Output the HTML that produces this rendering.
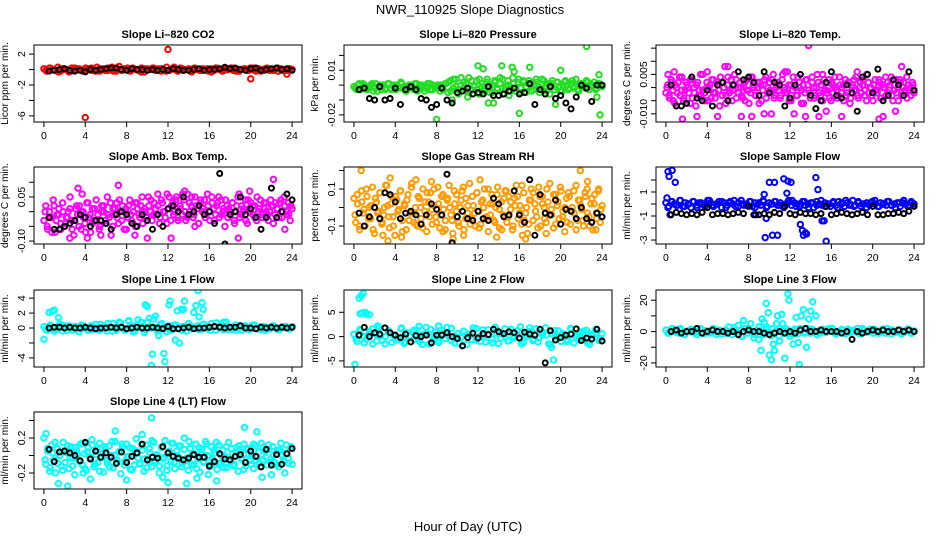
<!DOCTYPE html>
<html><head><meta charset="utf-8"><style>
html,body{margin:0;padding:0;background:#fff;}
svg{display:block;font-family:"Liberation Sans",sans-serif;}
</style></head><body>
<svg id="chart" width="936" height="540" viewBox="0 0 936 540">
<text x="470" y="14" text-anchor="middle" font-size="13">NWR_110925  Slope Diagnostics</text>
<text x="468" y="531" text-anchor="middle" font-size="13">Hour of Day (UTC)</text>
<g id="plots"></g>
</svg>
<script>
// x axis tick values and labels
const xTicks = [0,4,8,12,16,20,24];
const xTickLabels = ["0","4","8","12","16","20","24"];

// ---- CO2 (ppm/min)
const co2Color = [0.1,-0.2,0.2,0,-0.1,0.3,-0.2,0.1,0,-0.3,0.2,-0.1,0.1,0,-0.2,0.2,0.1,-0.1,0,0.3,-0.2,0.1,-0.1,0.2,0,-0.2,0.1,0.4,-0.1,0,0.2,-0.2,0.1,0,-0.1,0.2,-0.3,0.1,0,0.2,-0.1,0.1,-0.2,0,0.3,-0.1,0.1,0,-0.2,0.2,-0.1,0,0.1,-0.3,0.2,0,-0.1,0.1,0,-0.2,0.1,-0.1,0.2,0,-0.2,0.1,0,0.2,-0.1,0.1,-0.2,0,0.1,-0.1,0.2,0,-0.2,0.1,0,-0.1,0.2,-0.1,0,0.1,-0.2,0.1,0,-0.1,0.1,0];
const co2Color2 = [-0.1,0.2,0,-0.3,0.1,0,-0.2,0.2,0.1,-0.1,0,0.2,-0.2,0.1,0,-0.1,0.3,-0.2,0,0.1,-0.1,0.2,0,-0.3,0.1,0,0.2,-0.1,0.1,-0.2,0,0.3,-0.1,0.1,0,-0.2,0.2,0,-0.1,0.1,-0.3,0.2,0,-0.1,0.1,0.2,-0.2,0,0.1,-0.1,0.2,0,-0.2,0.1,0,-0.1,0.2,-0.1,0,0.1];
const co2OutHours = [4,12,20,23.5];
const co2OutVals = [-6.2,2.6,-1.2,-0.6];
const co2Black = [-0.2,-0.1,0,0.1,-0.1,-0.2,-0.1,-0.3,0,-0.1,0,0.1,0.2,0.2,0,-0.1,0.1,0,0,-0.1,0,-0.1,0,-0.1,0.1,0,-0.1,-0.1,0,0.1,-0.1,0,0,0.1,0.3,0.1,0.2,0,-0.1,0.1,0.2,-0.1,0,0.1,0.2,0,0.1,-0.1];

// ---- Li-820 pressure (1e-3 kPa/min)
const pressColor = [-1,-3,1,-2,0,-3,-1,1,-2,-4,0,-1,-3,1,-2,0,-3,-1,2,-2,-4,0,-1,-3,1,-2,0,-4,-1,1,-3,-2,0,-4,-1,1,-5,3,-2,4,-6,0,2,-4,5,-3,-1,3,-6,1,-2,4,-5,0,2,-3,5,-6,-1,3,-4,1,-2,4,-5,2,-1,3,-4,0,2,-5,4,-2,1,-6,3,-1,2,-4,0,3,-3,1,-2,4,-4,1,-1,3,-3,0,2,-2,1,-1];
const pressColor2 = [-2,0,-3,1,-1,-2,0,-4,1,-1,-3,0,-2,1,-3,-1,0,-2,1,-3,-1,0,-2,1,-4,0,-1,-2,1,-3,0,-1,-2,0,-3,1,2,-4,4,-1,-3,5,-2,1,-5,3,0,-3,4,-1,-4,2,0,-5,3,-2,1,4,-3,0,-1,5,-4,2,-2,3,-5,1,0,-3,4,-1,-2,3,-4,0,1,-3,2,-1,-4,2,0,-2,3,-1,-3,1,0,-2,2,-1,0,-3,1,0];
const pressOutHours = [8,9.5,12,12.5,13,13.5,14.3,15.3,15.5,16,17,19.5,20,22.5,23.5,23.8,23.7,15,11];
const pressOutVals = [-23,-10,13,11,-12,-12,13,12,9,-19,12,-13,10,26,-8,-20,7,-7,-8];
const pressBlack = [-3,-2,-9,-10,-1,-10,-9,-2,-13,-3,-1,-3,-9,-10,-15,-13,-2,-10,-12,-5,-4,-2,-6,-5,-6,-1,-7,-7,-6,-4,-2,-6,-5,1,-13,-3,-6,-1,-9,-7,-12,-16,-8,0,-2,-11,0,0];

// ---- Li-820 temp (1e-3 deg C/min)
const tempLiColor = [-2,1,-4,3,-1,-6,0,2,-3,4,-5,-1,1,-2,3,-4,0,-7,2,-1,-3,5,-2,0,-5,1,3,-2,-4,2,-1,4,-3,0,-6,1,-2,3,-1,5,-4,0,2,-3,1,-5,3,-1,-2,4,0,-3,2,-6,1,-1,3,-4,0,2,-2,5,-3,1,-1,-4,3,0,-2,6,-5,1,-1,2,-3,4,0,-6,1,-2,3,-1,-4,2,0,-3,5,-2,1,-5,3,-1,0,-4,2,-2,4,-1,-3,1,0,-5,3,-2,2,-4,1,-1,4,-3,0,-2,3,-1,-5,2,0,-3,1,-1,-2,3,-4,1,0,-3,2,-1,4,-5,1,-2,0,3,-3,2,-1,-4,1,0,2,-2];
const tempLiColor2 = [0,-3,2,-5,1,-2,4,-1,-4,2,0,-6,3,-2,1,-3,5,-1,-5,2,0,-4,3,-2,1,-7,2,0,-3,4,-1,-5,1,3,-2,0,-4,2,-1,-6,4,1,-3,0,2,-5,1,4,-2,-1,3,-4,0,2,-3,5,-1,-2,1,-5,4,0,-3,2,-1,-6,3,1,-2,4,-4,0,2,-3,5,-1,-2,3,-5,1,0,-4,4,-2,1,-3,2,-6,0,3,-1,-4,2,1,-3,5,-2,0,-5,3,-1,2,-4,0,4,-2,1,-3,-1,3,-5,2,0,-2,4,-1,-3,1];
const tempLiOutHours = [0.2,0.8,1.6,3,4,5,6,7.3,8.3,10.2,12.4,13.5,13.8,14.8,15.5,17,18.5,20.6,21,22.2,22.8,5.7,9.5,11.5];
const tempLiOutVals = [5,6,-12,-11,6,-11,8,-11,-11,-10,-10,-11,16,-11,-9,-11,6,-12,-11,-9,8,8,-10,6];
const tempLiBlack = [1,-7,-7,-6,4,-4,-5,-1,-7,1,2,-5,1,6,3,4,2,-3,6,-2,2,1,-7,-4,1,5,-14,-3,-8,-5,2,6,-3,-4,1,-2,-9,4,5,-2,7,-5,-3,3,1,-3,6,-1];

// ---- Amb. box temp (1e-2 deg C/min)
const ambColor = [-3,2,-6,0,-2,4,-7,-1,1,-4,3,-5,-2,0,5,-3,-8,1,-1,2,-6,0,-4,3,-2,-7,1,-3,4,-1,-5,2,0,-3,5,-2,-8,1,-1,3,-4,0,2,-6,1,-2,4,-3,0,-5,3,-1,2,-4,1,-2,5,0,-3,3,-1,2,-4,4,0,-2,6,1,-3,3,0,5,-2,2,-1,4,-3,6,0,2,-2,5,1,-4,3,0,4,-1,2,-3,5,1,-1,3,-2,4,0,-5,2,1,-1,3,-3,0,5,-2,2,0,4,-4,1,3,-1,2,-3,0,4,-2,1,3,-1,0,2,-4,3,1,-2,4,0,2,-1,3,-3,1];
const ambColor2 = [0,-5,-2,-7,2,-3,-1,-6,0,-4,-2,1,-6,-3,2,-5,0,-2,-7,3,-1,-4,1,-3,-6,0,2,-4,-1,3,-5,1,-2,4,-3,0,-6,2,-1,-4,3,1,-2,5,0,-3,2,4,-1,1,6,-2,3,0,-4,5,2,-1,4,-3,1,6,0,-2,3,5,-1,2,-4,4,1,-2,6,0,3,-3,2,5,-1,1,4,-2,0,3,-4,2,6,-1,1,-3,4,0,2,-2,5,1,-1,3,0,-3,4,2,-1,1,3,-2,5,0,-1,2];
const ambOutHours = [3.3,3.7,7.2,8.8,10,12.3,13.6,18.8,19.9,22.2,2.5,4.2,5.5,14.6,23.3];
const ambOutVals = [8,6,9,-8,-9,-9,7,-9,7,11,-9,-9,-8,-5,-6];
const ambBlack = [-2,-6,-6,-5,-4,-3,-1,-2,-5,-3,-3,-4,-6,-1,0,-1,-4,-5,-1,-3,-6,-1,-5,1,2,0,5,-1,0,2,-1,0,-4,13,-11,-1,0,5,-1,1,-2,-6,-2,8,-2,0,6,4];

// ---- Gas stream RH (1e-2 %/min)
const rhColor = [5,-8,2,-12,9,-3,-10,6,0,-6,11,-14,3,-2,8,-9,-4,12,1,-11,6,-5,-15,4,-1,9,-7,2,-12,7,-3,13,-8,0,-10,5,-6,10,-2,-13,3,8,-9,1,-5,11,-11,6,-1,-7,4,12,-4,-14,2,7,-8,0,9,-12,5,-3,13,-6,1,-10,8,-2,-9,4,10,-5,-13,2,7,-7,0,11,-11,3,-4,9,-8,6,-1,-12,5,12,-6,1,-9,8,-3,-14,4,10,-7,2,-5,11,-10,6,0,-8,3,13,-4,-11,7,1,-6,9,-2,-13,5,8,-9,0,-3,12,-7,4,-1,-10,6,10,-5,2,-12,7,-3,9,-8,1];
const rhColor2 = [-4,7,-10,3,-1,10,-6,1,-12,5,-3,8,-8,0,12,-5,2,-10,6,-2,9,-13,1,4,-7,11,-3,-9,6,0,-11,3,8,-5,-1,10,-8,2,-4,7,-12,5,0,-7,9,-2,-10,4,11,-6,1,-9,6,-3,8,-11,3,0,-6,10,-4,2,-8,7,-1,-12,5,9,-5,3,-10,1,6,-3,12,-7,0,-9,4,8,-2,-11,6,2,-6,10,-4,-1,7,-9,3,11,-5,0,-8,6,-2,9,-12,4,1,-7,8,-3,-10,5,2,-6,10,-1];
const rhOutHours = [0.7,3.3,3.5,4.6,6,7.5,9.6,10.6,12.2,13.8,16.3,16.6,18.6,21.9,22.6,23.4,8.6,2.8];
const rhOutVals = [20,-18,16,-16,15,14,-17,-15,15,-16,-15,-17,-14,20,14,-12,-13,-15];
const rhBlack = [-3,-10,-5,0,-6,8,7,3,-6,-3,-2,-4,-9,-4,2,-1,-4,18,-19,-5,-2,-6,-7,-2,-6,-7,5,2,-5,-4,9,-4,-8,15,-15,7,-3,-4,4,-9,-1,-2,-6,0,-6,-8,-3,-5];

// ---- Sample flow (mL/min per min)
const sampleColor = [0.1,-0.2,0.2,0,-0.1,0.3,-0.2,0.1,0,-0.3,0.2,-0.1,0.1,0,-0.2,0.3,0.1,-0.1,0,0.2,-0.3,0.1,-0.1,0.2,0,-0.2,0.1,0.3,-0.1,0,0.2,-0.2,0.1,0,-0.1,0.2,-0.3,0.1,0,0.2,-0.1,0.1,-0.2,0,0.3,-0.1,0.1,0,-0.2,0.2,-0.1,0,0.1,-0.3,0.2,0,-0.1,0.1,0,-0.2,0.1,-0.1,0.2,0,-0.2,0.1,0,0.3,-0.1,0.1,-0.2,0,0.1,-0.1,0.2,0,-0.2,0.1,0,-0.1,0.2,-0.1,0,0.1,-0.2,0.1,0,-0.1,0.2,0];
const sampleColor2 = [-0.3,0.2,-0.1,0.3,-0.2,0,0.2,-0.3,0.1,-0.1,0.3,-0.2,0,0.2,-0.3,0.1,0.3,-0.2,0,-0.1,0.2,-0.3,0.1,0.3,-0.2,0,0.2,-0.1,-0.3,0.1,0.3,-0.2,0,0.2,-0.3,0.1,-0.1,0.3,-0.2,0,0.2,-0.3,0.1,0.3,-0.1,-0.2,0.2,0,-0.3,0.1,0.3,-0.2,0,0.2,-0.1,-0.3,0.1,0.3,-0.2,0.1];
const sampleOutHours = [0.2,0.3,0.6,0.9,0.1,0.4,9.6,10,10.5,10.8,11.4,11.8,12.1,9.7,10.3,13.0,13.2,13.5,13.6,14.5,14.7,15.1,15.3,15.5,11.7,8.7,13.3,9.5];
const sampleOutVals = [2.7,2.3,2.8,1.8,0.5,-0.9,-2.8,1.8,1.8,-2.6,2.1,1.9,1.8,-1.2,-2.6,-1.7,-2.2,-2.4,-2.5,2.2,1.2,-1.4,-1.4,-3.1,0.9,-0.9,-2.6,0.8];
const sampleBlack = [-0.9,-0.7,-0.8,-0.9,-0.8,-0.9,-0.7,-0.3,-0.9,-0.8,-0.8,-0.9,-0.8,-0.7,-0.8,-0.2,-0.9,-0.9,-0.8,-0.9,-0.7,-0.8,-0.2,-0.8,-0.9,-0.7,-0.8,-0.8,-0.9,-0.8,-0.2,-0.9,-0.8,-0.7,-0.8,-0.9,-0.8,-0.7,-0.9,-0.2,-0.9,-0.9,-0.8,-0.8,-0.7,-0.8,-0.6,-0.2];

// ---- Line 1 flow
const line1Color = [0.2,-0.3,0.4,0,-0.2,0.5,-0.4,0.1,0.3,-0.3,0.2,-0.1,0.4,0,-0.3,0.3,0.1,-0.2,0.5,0,-0.4,0.2,0.6,-0.3,0.8,0,-0.2,0.9,0.3,-0.4,1.1,0.2,-0.6,0.8,0,1.2,-0.3,0.5,0,-0.5,0.3,-0.2,0.4,0,-0.3,0.2,0.6,-0.1,0,0.3,-0.2,0.5,0.1,-0.3,0.2,0.7,0,-0.2,0.8,0.1,-0.2,0.4,0,-0.3,0.3,0.1,-0.1,0.4,0,-0.2,0.2,0.1,-0.1,0.3,0,-0.2,0.2,0.1,-0.1,0.2];
const line1Color2 = [-0.2,0.3,-0.4,0.1,0.4,-0.3,0,0.2,-0.5,0.3,0,-0.2,0.5,-0.3,0.1,0.6,-0.4,0.2,0.7,-0.3,1.0,-0.5,0.4,0.8,-0.2,1.3,0.1,-0.4,0.6,0,-0.3,0.4,-0.1,0.2,-0.4,0.3,0,-0.2,0.5,-0.1,0.6,-0.3,0.3,0.8,-0.2,0.1,-0.3,0.3,0,-0.2,0.4,-0.1,0.2,-0.3,0.1,0.3,-0.2,0,0.2,-0.1];
const line1OutHours = [0,0.5,0.8,1.0,1.4,9.8,10.0,10.4,10.5,10.8,11.1,11.6,11.7,12.1,12.2,12.7,12.9,13.3,13.5,13.6,14.5,14.7,14.9,15.0,15.3,15.4,13.1];
const line1OutVals = [-1.5,2.1,2.2,2.4,1.4,3.1,2.9,-5.0,-3.5,1.6,-1.0,-3.4,-4.5,3.1,3.6,-1.6,2.3,2.5,2.5,3.6,2.1,3.0,5.0,1.5,3.4,2.5,-2.0];
const line1Black = [0,0.1,0.1,0,0.1,0,0,0.1,0,-0.1,0,0,0.1,0,0.1,-0.1,0,0.1,0,0,0.1,0,-0.1,0.2,-0.1,-0.1,0,0.1,-0.1,0,0,0.1,0.2,0.1,0,0.1,0.1,0.3,0,0,-0.1,0.1,0,0.1,0,0.1,0,0.1];

// ---- Line 2 flow
const line2Color = [0.5,-1,1.5,0,-0.5,1,-1.5,0.5,1.8,-0.8,0,1.2,-1.2,0.3,-0.3,1.6,-1.4,0.8,0,-0.6,1.4,-1,0.4,1.9,-1.5,0,0.9,-0.9,1.3,-0.4,0.2,1.7,-1.3,0.6,-0.2,1.1,-1.6,0.3,1.8,-0.7,0,1.4,-1.1,0.5,-0.5,1.9,-1.4,0.7,0.1,-0.9,1.5,-0.3,0.4,2,-1.2,0,1,-0.8,1.6,-0.2,0.3,1.8,-1.5,0.6,0,1.2,-1.0,0.4,-0.6,1.7,-1.3,0.5,0.9,-0.4,1.3,-1.6,0.2,1.5,-0.8,0.6];
const line2Color2 = [-0.5,1.2,-1.3,0.4,1.6,-0.9,0.2,-1.5,1.0,0.3,-0.7,1.8,-1.1,0,1.3,-0.4,-1.6,0.8,1.5,-0.2,-1.2,0.6,1.9,-0.8,0.1,-1.4,1.1,0.5,-0.6,1.7,-1.0,0.2,1.4,-1.3,0.7,-0.3,1.6,-0.9,0,1.2,-1.5,0.4,1.8,-0.5,-1.1,0.9,0.3,-1.6,1.3,-0.2,0.6,-1.0,1.5,0.1,-0.7,1.1,-1.3,0.5,0.8,-0.4];
const line2OutHours = [0.1,0.5,0.7,0.9,1.1,0.6,0.8,1.2,1.5,19.1,19.3,2.3,6.3,8.2];
const line2OutVals = [-5.7,7.9,8.4,8.9,5.0,4.7,4.9,4.6,4.5,-2.2,-4.8,2.2,2.1,2.2];
const line2Black = [0.3,1.9,0,0.8,0.5,1.8,0.8,0.3,-0.2,0.5,-1.1,0.2,0,0.3,-1.3,0.3,0.3,0.8,0,-0.4,-1.9,-0.2,0.7,-0.3,0.6,0.4,1.5,1,0.6,1,0.8,-0.3,0.9,0.5,0.3,1.5,-5.4,1.2,-0.7,-0.2,0.3,0.5,1.6,-0.8,-0.3,-0.5,1.5,-0.9];

// ---- Line 3 flow
const line3Color = [1,-1,2,0,-1,1,-2,0.5,1.5,-1,0,2,-1.5,0.5,-0.5,1.5,-2,1,0,-1,3,-2,1,4,-3,2,-1,5,-4,1,0,-2,3,-1,2,0,-3,1,2,-1,0,1.5,-1.5,1,-0.5,2,-1,0.5,0,-1,1.5,-0.5,1,2,-1.5,0,1,-1,1.5,-0.5,0.5,2,-1.5,1,0,1.5,-1,0.5,-0.5,1.5,-1,0.5,1,-0.5,1,-1.5,0.5,1.5,-1,0.5];
const line3Color2 = [-1,1.5,-0.5,2,-1.5,0,1,-2,1.5,0.5,-1,2,-0.5,-1.5,1,0,2.5,-1,-3,2,0.5,-2,3,-1,1.5,-2.5,0,2,-1,1,-1.5,0.5,2,-1,0,1.5,-2,1,-0.5,2,0,-1,1.5,-1.5,0.5,1,-1,2,-0.5,0,1.5,-1,0.5,2,-1.5,0,1,-0.5,1.5,-1];
const line3OutHours = [7.5,9.0,9.3,9.5,9.7,9.9,10.0,10.2,10.4,10.5,10.7,10.8,11.0,11.2,11.5,11.8,11.9,12.0,12.3,12.6,12.8,12.9,13.1,13.3,13.6,13.8,14.0,14.2,14.5,9.2,11.3];
const line3OutVals = [7,-5,8,6,18,12,-15,-18,-8,-12,5,10,-6,11,-17,24,20,-3,-8,9,-7,-21,10,14,-10,8,13,19,10,-12,5];
const line3Black = [0,1,-1,0,0,2,-1,0,1,0,0,-1,0,-2,0,1,0,0,-1,-2,-1,0,-1,0,-1,1,2,0,0,1,0,0,0,-1,0,-5,0,-1,0,1,0,1,0,0,1,0,1,0];

// ---- Line 4 (LT) flow (1e-2 mL/min per min)
const line4Color = [20,-10,5,-18,12,-5,-20,8,0,-12,15,-8,3,-15,10,-3,-22,6,-6,13,-11,2,-17,9,-4,18,-13,1,-8,14,-2,-19,7,-9,11,0,-14,16,-5,4,-21,10,-7,13,-1,-16,8,-11,19,-3,-10,6,-18,12,-6,3,-13,15,-8,0,-20,9,-4,17,-12,2,-7,14,-15,5,-2,11,-9,20,-6,-17,8,1,-11,13,-4,-19,7,-8,16,0,-13,10,-5,3,-16,12,-9,6,-1,-14,15,-7,2,-10,9,-18,4,-3,13,-12,8,-6,1,-15,11,-2,-9,14,-5,5,-11,7,-4,10,-8,3,-13,6,0,-7,12,-3,8,-10];
const line4Color2 = [-5,8,-14,3,15,-9,0,-17,6,11,-3,-12,9,1,-7,14,-15,4,-2,12,-10,7,-18,2,10,-6,-13,16,0,-8,5,13,-11,-1,9,-16,6,3,-9,12,-4,-14,8,17,-6,1,-12,10,-2,-17,5,14,-8,0,11,-13,7,-3,16,-10,2,-15,9,4,-7,13,-1,-11,6,15,-9,0,-14,10,-5,8,-12,3,11,-4,-16,7,1,-10,13,-6,4,-13,9,-2,12,-8,0,-11,6,14,-5,2,-9,10];
const line4OutHours = [1.4,2.3,10.4,19.4,0.2,4.5,6.9,8.0,11.5,12.0,13.8,14.8,15.9,16.7,20.6,21.1,22,23.3,3.8,9.5];
const line4OutVals = [-32,-35,43,32,25,-27,28,-28,-25,-31,-32,-26,-22,-29,27,-25,-22,-20,-20,24];
const line4Black = [7,-7,4,5,3,0,-6,15,-4,5,-2,3,-2,-9,4,-8,-1,3,13,-5,-2,-3,10,3,-1,-3,-5,-3,1,-2,-2,-12,-7,2,-4,-5,-1,1,-8,5,-1,-13,7,-11,1,-10,2,8];

const panels = [
 {name:"co2",title:"Slope Li\u2013820 CO2",ylab:"Licor ppm per min.",col:0,row:0,ymin:-6.79,ymax:3.18,ticks:[-6,-4,-2,0,2],tlabels:["-6","","-2","","2"],color:"#ff0000",c:co2Color,c2:co2Color2,oh:co2OutHours,ov:co2OutVals,k:co2Black},
 {name:"pressure",title:"Slope Li\u2013820 Pressure",ylab:"kPa per min.",col:1,row:0,ymin:-24.8,ymax:27,ticks:[-20,-10,0,10,20],tlabels:["-0.02","","","0.01",""],color:"#22dd22",c:pressColor,c2:pressColor2,oh:pressOutHours,ov:pressOutVals,k:pressBlack},
 {name:"li820-temp",title:"Slope Li\u2013820 Temp.",ylab:"degrees C per min.",col:2,row:0,ymin:-13.1,ymax:16.2,ticks:[-10,-5,0,5,10,15],tlabels:["-0.010","","","0.005","",""],color:"#ff00ff",c:tempLiColor,c2:tempLiColor2,oh:tempLiOutHours,ov:tempLiOutVals,k:tempLiBlack},
 {name:"amb-temp",title:"Slope Amb. Box Temp.",ylab:"degrees C per min.",col:0,row:1,ymin:-11,ymax:15.2,ticks:[-10,-5,0,5,10],tlabels:["-0.10","","","0.05",""],color:"#ff00ff",c:ambColor,c2:ambColor2,oh:ambOutHours,ov:ambOutVals,k:ambBlack},
 {name:"rh",title:"Slope Gas Stream RH",ylab:"percent per min.",col:1,row:1,ymin:-19.7,ymax:21.9,ticks:[-10,0,10,20],tlabels:["-0.1","","0.1",""],color:"#ff9a00",c:rhColor,c2:rhColor2,oh:rhOutHours,ov:rhOutVals,k:rhBlack},
 {name:"sample-flow",title:"Slope Sample Flow",ylab:"ml/min per min.",col:2,row:1,ymin:-3.33,ymax:3.08,ticks:[-3,-2,-1,0,1,2],tlabels:["-3","","-1","","1",""],color:"#0000ff",c:sampleColor,c2:sampleColor2,oh:sampleOutHours,ov:sampleOutVals,k:sampleBlack},
 {name:"line1",title:"Slope Line 1 Flow",ylab:"ml/min per min.",col:0,row:2,ymin:-5.22,ymax:5.09,ticks:[-4,-2,0,2,4],tlabels:["-4","","0","2","4"],color:"#00ffff",c:line1Color,c2:line1Color2,oh:line1OutHours,ov:line1OutVals,k:line1Black},
 {name:"line2",title:"Slope Line 2 Flow",ylab:"ml/min per min.",col:1,row:2,ymin:-6.25,ymax:9.58,ticks:[-5,0,5],tlabels:["-5","0","5"],color:"#00ffff",c:line2Color,c2:line2Color2,oh:line2OutHours,ov:line2OutVals,k:line2Black},
 {name:"line3",title:"Slope Line 3 Flow",ylab:"ml/min per min.",col:2,row:2,ymin:-22.6,ymax:26.5,ticks:[-20,-10,0,10,20],tlabels:["-20","","0","","20"],color:"#00ffff",c:line3Color,c2:line3Color2,oh:line3OutHours,ov:line3OutVals,k:line3Black},
 {name:"line4",title:"Slope Line 4 (LT) Flow",ylab:"ml/min per min.",col:0,row:3,ymin:-38.3,ymax:49.7,ticks:[-20,0,20,40],tlabels:["-0.2","","0.2",""],color:"#00ffff",c:line4Color,c2:line4Color2,oh:line4OutHours,ov:line4OutVals,k:line4Black}
];

const NS = "http://www.w3.org/2000/svg";
const colLeft = [34,344,656], rowTop = [45,167,290,412], W = 268, H = 77;
const root = document.getElementById("plots");
function mk(tag, attrs, parent){
  const e = document.createElementNS(NS, tag);
  for (const k in attrs) e.setAttribute(k, attrs[k]);
  parent.appendChild(e);
  return e;
}
panels.forEach(p => {
  const L = colLeft[p.col], T = rowTop[p.row];
  const g = mk("g", {}, root);
  
  
  const xs = h => L + W * (h + 0.96) / 25.92;
  const ys = v => T + H * (p.ymax - v) / (p.ymax - p.ymin);
  const clip = "clip-" + p.name;
  const cp = mk("clipPath", {id: clip}, g);
  mk("rect", {x: L, y: T, width: W, height: H}, cp);
  const t = mk("text", {x: L + W/2, y: T - 7, "text-anchor": "middle", "font-size": "11", "font-weight": "bold"}, g);
  t.textContent = p.title;
  
  
  const yl = mk("text", {x: 0, y: 0, "text-anchor": "middle", "font-size": "10", transform: "translate(" + (L - 26) + "," + (T + H/2) + ") rotate(-90)"}, g);
  yl.textContent = p.ylab;
  
  
  const pts = mk("g", {"clip-path": "url(#" + clip + ")", fill: "none", "stroke-width": "2"}, g);
  
  
  const n = p.c.length;
  p.c.forEach((v, i) => {
    const c = mk("circle", {cx: xs(24 * i / (n - 1)), cy: ys(v), r: 2.7, stroke: p.color}, pts);
    
    
  });
  const n2 = p.c2.length;
  p.c2.forEach((v, i) => {
    const c = mk("circle", {cx: xs(24 * (i + 0.5) / n2), cy: ys(v), r: 2.7, stroke: p.color}, pts);
    
    
  });
  p.oh.forEach((h, i) => {
    const c = mk("circle", {cx: xs(h), cy: ys(p.ov[i]), r: 2.7, stroke: p.color}, pts);
    
    
  });
  const m = p.k.length;
  p.k.forEach((v, i) => {
    const c = mk("circle", {cx: xs(0.5 + 23.5 * i / (m - 1)), cy: ys(v), r: 2.5, stroke: "#000"}, pts);
    
    
  });
  const b = mk("rect", {x: L, y: T, width: W, height: H, fill: "none", stroke: "#000", "stroke-width": "1"}, g);
  
  
  mk("line", {x1: xs(0), x2: xs(24), y1: T + H, y2: T + H, stroke: "#000"}, g);
  xTicks.forEach((h, i) => {
    mk("line", {x1: xs(h), x2: xs(h), y1: T + H, y2: T + H + 5, stroke: "#000"}, g);
    const tl = mk("text", {x: xs(h), y: T + H + 17, "text-anchor": "middle", "font-size": "10.5"}, g);
    tl.textContent = xTickLabels[i];
    
    
  });
  p.ticks.forEach((v, i) => {
    const y = ys(v);
    mk("line", {x1: L - 5, x2: L, y1: y, y2: y, stroke: "#000"}, g);
    if (p.tlabels[i]) {
      const tl = mk("text", {x: 0, y: 0, "text-anchor": "middle", "font-size": "10.5", transform: "translate(" + (L - 9) + "," + y + ") rotate(-90)"}, g);
      tl.textContent = p.tlabels[i];
      
      
    }
  });
  mk("line", {x1: L, x2: L, y1: ys(p.ticks[0]), y2: ys(p.ticks[p.ticks.length - 1]), stroke: "#000"}, g);
});
</script>
</body></html>
